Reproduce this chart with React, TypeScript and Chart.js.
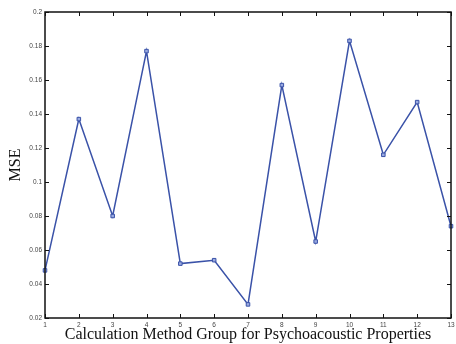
import React, { useEffect, useRef } from "react";
import { Chart, registerables } from "chart.js";

Chart.register(...registerables);

const groups = [1, 2, 3, 4, 5, 6, 7, 8, 9, 10, 11, 12, 13];
const mseValues = [0.048, 0.137, 0.080, 0.177, 0.052, 0.054, 0.028, 0.157, 0.065, 0.183, 0.116, 0.147, 0.074];
const yTicks = [0.02, 0.04, 0.06, 0.08, 0.1, 0.12, 0.14, 0.16, 0.18, 0.2];
const xLabel = "Calculation Method Group for Psychoacoustic Properties";
const yLabel = "MSE";

const boxPlugin = {
  id: "matlabBox",
  afterDatasetsDraw(chart: any) {
    const { ctx, chartArea, scales } = chart;
    const { left, right, top, bottom } = chartArea;
    ctx.save();
    ctx.strokeStyle = "#111";
    ctx.lineWidth = 1.5;
    ctx.strokeRect(left, top, right - left, bottom - top);
    ctx.lineWidth = 1;
    const len = 4;
    ctx.beginPath();
    scales.x.ticks.forEach((t: any) => {
      const px = Math.round(scales.x.getPixelForValue(t.value)) + 0.5;
      ctx.moveTo(px, bottom);
      ctx.lineTo(px, bottom - len);
      ctx.moveTo(px, top);
      ctx.lineTo(px, top + len);
    });
    scales.y.ticks.forEach((t: any) => {
      const py = Math.round(scales.y.getPixelForValue(t.value)) + 0.5;
      ctx.moveTo(left, py);
      ctx.lineTo(left + len, py);
      ctx.moveTo(right, py);
      ctx.lineTo(right - len, py);
    });
    ctx.stroke();
    ctx.restore();
  },
};

export default function App() {
  const ref = useRef<HTMLCanvasElement>(null);
  useEffect(() => {
    document.body.style.margin = "0";
    const chart = new Chart(ref.current!, {
      type: "line",
      data: {
        datasets: [
          {
            data: groups.map((g, i) => ({ x: g, y: mseValues[i] })),
            borderColor: "#3a52a8",
            borderWidth: 1.5,
            backgroundColor: "#8fa0d8",
            pointStyle: "rect",
            pointRadius: 2.5,
            pointBorderWidth: 1,
            pointBorderColor: "#3a52a8",
            pointBackgroundColor: "#9aaae0",
            tension: 0,
            clip: false as any,
          },
        ],
      },
      options: {
        animation: false,
        responsive: false,
        layout: { padding: { top: 12, right: 2, left: 0, bottom: 0 } },
        plugins: { legend: { display: false }, tooltip: { enabled: false } },
        scales: {
          x: {
            type: "linear",
            min: 1,
            max: 13,
            afterBuildTicks: (s: any) => {
              s.ticks = groups.map((v) => ({ value: v }));
            },
            ticks: {
              font: { family: "Liberation Sans", size: 6.5 },
              color: "#444",
              padding: 3,
              maxRotation: 0,
              autoSkip: false,
            },
            grid: { display: false, drawTicks: false, tickLength: 0 },
            border: { display: false },
            title: {
              display: true,
              text: xLabel,
              font: { family: "Liberation Serif", size: 16 },
              color: "#111",
              padding: { top: 0, bottom: 0 },
            },
            afterFit: (s: any) => {
              s.height = 26;
              s.paddingLeft = 0;
              s.paddingRight = 0;
            },
          },
          y: {
            min: 0.02,
            max: 0.2,
            afterBuildTicks: (s: any) => {
              s.ticks = yTicks.map((v) => ({ value: v }));
            },
            ticks: {
              font: { family: "Liberation Sans", size: 6.5 },
              color: "#444",
              padding: 3,
              callback: (v: any) => String(Number(Number(v).toFixed(2))),
            },
            grid: { display: false, drawTicks: false, tickLength: 0 },
            border: { display: false },
            title: {
              display: true,
              text: yLabel,
              font: { family: "Liberation Serif", size: 16 },
              color: "#111",
              padding: { top: 6, bottom: 0 },
            },
            afterFit: (s: any) => {
              s.width = 45;
              s.paddingTop = 0;
              s.paddingBottom = 0;
            },
          },
        },
      },
      plugins: [boxPlugin],
    });
    return () => chart.destroy();
  }, []);
  return (
    <div style={{ width: 456, height: 344, background: "#fff" }}>
      <canvas ref={ref} width={456} height={344} />
    </div>
  );
}
